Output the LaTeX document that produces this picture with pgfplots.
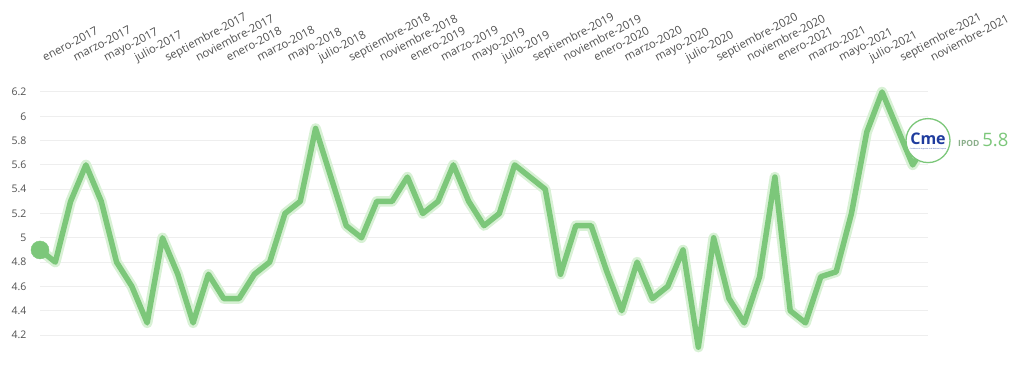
\documentclass[border=0pt]{standalone}
\usepackage{fontspec}
\setmainfont{Open Sans}
\usepackage{pgfplots}
\usepackage{pgfplotstable}
\pgfplotsset{compat=1.18}
\definecolor{linegreen}{HTML}{7CC77A}
\definecolor{glowgreen}{HTML}{D8F1D5}
\definecolor{gridgray}{HTML}{EEEEEE}
\definecolor{labelgray}{HTML}{505050}
\definecolor{logoblue}{HTML}{1F3C9E}
\definecolor{ipodgray}{HTML}{8AAE8A}
\pgfplotstableread{
idx val
0 4.9
1 4.8
2 5.3
3 5.6
4 5.3
5 4.8
6 4.6
7 4.3
8 5.0
9 4.7
10 4.3
11 4.7
12 4.5
13 4.5
14 4.7
15 4.8
16 5.2
17 5.3
18 5.9
19 5.5
20 5.1
21 5.0
22 5.3
23 5.3
24 5.5
25 5.2
26 5.3
27 5.6
28 5.3
29 5.1
30 5.2
31 5.6
32 5.5
33 5.4
34 4.7
35 5.1
36 5.1
37 4.73
38 4.4
39 4.8
40 4.5
41 4.6
42 4.9
43 4.1
44 5.0
45 4.5
46 4.3
47 4.68
48 5.5
49 4.4
50 4.3
51 4.68
52 4.72
53 5.2
54 5.87
55 6.2
56 5.9
57 5.6
58 5.8
}\ipod
\begin{document}
\begin{tikzpicture}[x=1pt,y=1pt]
\path[use as bounding box] (0,0) rectangle (1024,364);
\begin{axis}[
  at={(40pt,29pt)}, anchor=south west,
  scale only axis, width=888pt, height=243pt,
  xmin=0, xmax=58, ymin=4.2, ymax=6.2,
  clip=false,
  axis line style={draw=none},
  tick style={draw=none},
  major tick length=0pt,
  ytick={4.2,4.4,4.6,4.8,5,5.2,5.4,5.6,5.8,6,6.2},
  xtick={0,2,...,58},
  xticklabels={enero-2017,marzo-2017,mayo-2017,julio-2017,septiembre-2017,noviembre-2017,
    enero-2018,marzo-2018,mayo-2018,julio-2018,septiembre-2018,noviembre-2018,
    enero-2019,marzo-2019,mayo-2019,julio-2019,septiembre-2019,noviembre-2019,
    enero-2020,marzo-2020,mayo-2020,julio-2020,septiembre-2020,noviembre-2020,
    enero-2021,marzo-2021,mayo-2021,julio-2021,septiembre-2021,noviembre-2021},
  xticklabel pos=upper,
  xticklabel shift=30pt,
  xticklabel style={xshift=5pt, anchor=base west, inner sep=0pt, rotate=28,
    font=\fontsize{11.4}{13}\selectfont, text=labelgray},
  yticklabel style={font=\fontsize{10.5}{12}\selectfont, text=labelgray, xshift=-10pt},
  /pgf/number format/assume math mode=true,
  ymajorgrids,
  major grid style={gridgray, line width=1pt},
]
\addplot[glowgreen, line width=10.5pt, line join=round, line cap=round] table[x=idx,y=val]{\ipod};
\addplot[linegreen, line width=5.5pt, line join=round, line cap=round] table[x=idx,y=val]{\ipod};
\addplot[only marks, mark=*, color=linegreen, mark size=9pt] coordinates {(0,4.9)};
\addplot[only marks, mark=*, draw=linegreen, fill=white, mark size=22pt, mark options={line width=1.3pt, draw=linegreen, fill=white}] coordinates {(58,5.8)};
\coordinate (logo) at (axis cs:58,5.8);
\end{axis}
\node[text=logoblue, font=\bfseries\fontsize{16}{16}\selectfont, inner sep=0pt] at ([yshift=2pt]logo) {Cme};
\node[text=logoblue, font=\fontsize{1.6}{2}\selectfont, inner sep=0pt] at ([yshift=-8pt]logo) {Confederación Argentina de la Mediana Empresa};
\node[anchor=base west, inner sep=0pt] at ([xshift=30pt, yshift=-6pt]logo)
  {{\bfseries\fontsize{8.5}{9}\selectfont\color{ipodgray}IPOD}\hspace{3pt}{\fontsize{18.5}{19}\selectfont\color{linegreen}5.8}};
\end{tikzpicture}
\end{document}
